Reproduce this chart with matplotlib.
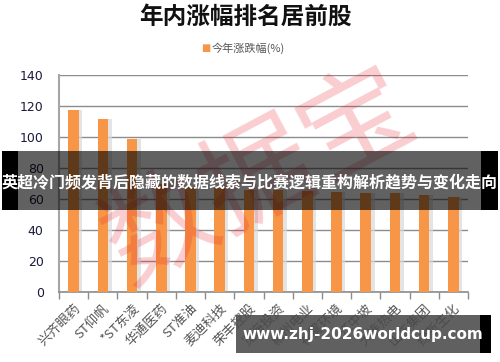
import matplotlib
matplotlib.use("Agg")
import matplotlib.pyplot as plt
from matplotlib.patches import Rectangle
import numpy as np

plt.rcParams['font.family'] = ['Noto Sans CJK SC', 'DejaVu Sans']

title = "年内涨幅排名居前股"
series_name = "今年涨跌幅(%)"
categories = ["兴齐眼药", "ST仰帆", "*ST东凌", "华通医药", "ST准油", "麦迪科技", "荣丰控股",
              "览海投资", "郴州电业", "神雾环境", "江中坡", "大连热电", "山东集团", "绿新生化"]
values = [117.5, 111.6, 98.8, 70.0, 68.0, 67.0, 66.0, 65.5, 65.0, 64.5, 64.0, 63.7, 62.6, 61.0]
yticks = [0, 20, 40, 60, 80, 100, 120, 140]
banner_text = "英超冷门频发背后隐藏的数据线索与比赛逻辑重构解析趋势与变化走向"
url_text = "www.zhj-2026worldcup.com"
watermark = "数据宝"

W, H = 500, 362
fig = plt.figure(figsize=(W / 100, H / 100), dpi=100)
ax = fig.add_axes([59 / W, 1 - 292 / H, 409 / W, 217 / H])

x = np.arange(len(categories))
orange = "#F79646"
ax.bar(x + 0.12, values, width=0.36, color="#d9d9d9", alpha=0.7, zorder=2)
ax.bar(x, values, width=0.36, color=orange, zorder=3)

ax.set_xlim(-0.5, len(categories) - 0.5)
ax.set_ylim(0, 140)
ax.set_yticks(yticks)
ax.set_yticklabels([str(v) for v in yticks], fontsize=9, color="#1a1a3a",
                   family=["DejaVu Sans"])
ax.yaxis.grid(True, color="#8c8c8c", linewidth=1.0, zorder=0)
ax.set_axisbelow(True)
ax.tick_params(axis="y", length=0, pad=11)

ax.set_xticks(np.arange(len(categories) + 1) - 0.5, minor=True)
ax.set_xticks(x)
ax.set_xticklabels(categories, rotation=45, ha="right", rotation_mode="anchor",
                   fontsize=9.5, color="#555555")
ax.tick_params(axis="x", which="major", length=0, pad=7)
ax.tick_params(axis="x", which="minor", length=5, color="#8c8c8c", width=1)

for s in ["top", "right"]:
    ax.spines[s].set_visible(False)
ax.spines["left"].set_color("#a6a6a6")
ax.spines["left"].set_linewidth(1.5)
ax.spines["bottom"].set_color("#8c8c8c")
ax.spines["bottom"].set_linewidth(1.2)

# title and legend
fig.text(0.49, 1 - 17 / H, title, ha="center", va="center", fontsize=17,
         fontweight="bold", color="#111111")
fig.text(0.412, 1 - 48 / H, "■", ha="center", va="center", fontsize=7, color=orange,
         family=["DejaVu Sans"])
fig.text(0.424, 1 - 48 / H, series_name, ha="left", va="center", fontsize=8, color="#555555")

# watermark
fig.text(0.52, 0.51, watermark, ha="center", va="center", fontsize=80, rotation=28,
         color="#e8202a", alpha=0.22)

# top banner
fig.patches.append(Rectangle((2 / W, 1 - 210 / H), 16 / W, 59 / H, transform=fig.transFigure,
                             facecolor="black", edgecolor="none", zorder=5))
fig.patches.append(Rectangle((481 / W, 1 - 210 / H), 17 / W, 59 / H, transform=fig.transFigure,
                             facecolor="black", edgecolor="none", zorder=5))
fig.patches.append(Rectangle((18 / W, 1 - 210 / H), 463 / W, 59 / H, transform=fig.transFigure,
                             facecolor="black", alpha=0.62, edgecolor="none", zorder=5))
fig.text(0.5, 1 - 182 / H, banner_text, ha="center", va="center", fontsize=11.5,
         color="white", fontweight="bold", zorder=7)

# bottom banner
fig.patches.append(Rectangle((236 / W, 1 - 353 / H), 244 / W, 38 / H, transform=fig.transFigure,
                             facecolor="#4a4a4a", alpha=0.88, edgecolor="none", zorder=5))
fig.patches.append(Rectangle((480 / W, 1 - 353 / H), 11 / W, 38 / H, transform=fig.transFigure,
                             facecolor="black", edgecolor="none", zorder=5))
fig.text(363 / W, 1 - 334 / H, url_text, ha="center", va="center", fontsize=11,
         color="white", fontweight="bold", family=["DejaVu Sans"], zorder=7)

fig.savefig("out.png", dpi=100)
